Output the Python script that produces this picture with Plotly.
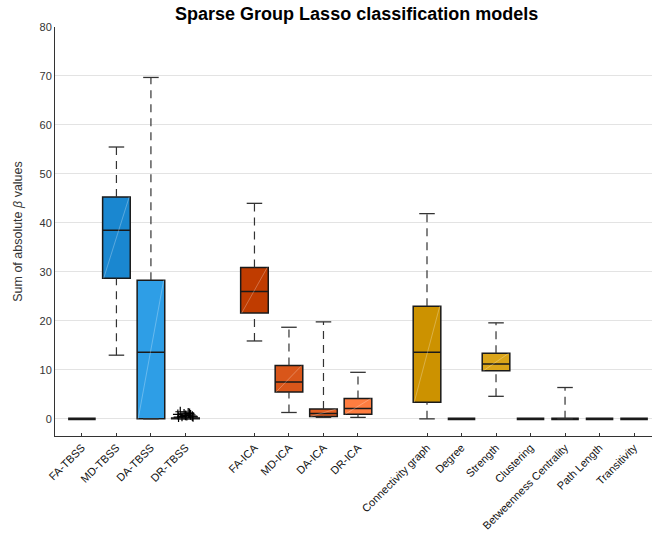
import plotly.graph_objects as go

# ---- data ----
categories = ["FA-TBSS", "MD-TBSS", "DA-TBSS", "DR-TBSS",
              "FA-ICA", "MD-ICA", "DA-ICA", "DR-ICA",
              "Connectivity graph", "Degree", "Strength", "Clustering",
              "Betweenness Centrality", "Path Length", "Transitivity"]
positions = [0, 1, 2, 3, 5, 6, 7, 8, 10, 11, 12, 13, 14, 15, 16]
lower_whisker = [0, 13.0, 0, 0, 15.9, 1.3, 0.3, 0.3, 0, 0, 4.6, 0, 0, 0, 0]
q1_values     = [0, 28.7, 0, 0, 21.6, 5.5, 0.5, 0.95, 3.4, 0, 9.8, 0, 0, 0, 0]
medians       = [0, 38.5, 13.6, 0.05, 26.0, 7.5, 1.1, 2.1, 13.6, 0, 11.2, 0, 0, 0, 0]
q3_values     = [0, 45.3, 28.3, 0.15, 30.9, 10.9, 2.0, 4.15, 23.0, 0, 13.4, 0, 0, 0, 0]
upper_whisker = [0, 55.5, 69.7, 0.3, 44.0, 18.7, 19.8, 9.5, 41.9, 0, 19.6, 0, 6.4, 0, 0]
colors = ["#1a87d0", "#1a87d0", "#2e9ee6", "#2e9ee6",
          "#c03c00", "#d9561a", "#e35f22", "#ff7d40",
          "#cc9200", "#cc9200", "#dba519", "#cc9200",
          "#cc9200", "#cc9200", "#cc9200"]
dr_tbss_outliers = [0.35, 0.5, 0.65, 0.8, 1.0, 1.2, 1.45, 0.55, 0.9, 0.4, 0.7, 1.1]
outlier_jitter = [-0.2, -0.1, 0.04, 0.15, -0.04, 0.08, -0.15, 0.2, -0.22, 0.22, 0.0, 0.12]
y_ticks = [0, 10, 20, 30, 40, 50, 60, 70, 80]

BOX_W = 0.8
CAP_W = 0.45
EDGE = "#1a1a1a"

fig = go.Figure()

# whiskers (dashed) and caps
for p, lw, q1, q3, uw in zip(positions, lower_whisker, q1_values, q3_values, upper_whisker):
    if uw > q3:
        fig.add_trace(go.Scatter(x=[p, p], y=[q3, uw], mode="lines",
                                 line=dict(color="#333333", width=1.2, dash="8px,6px"),
                                 showlegend=False, hoverinfo="skip"))
    if lw < q1:
        fig.add_trace(go.Scatter(x=[p, p], y=[lw, q1], mode="lines",
                                 line=dict(color="#333333", width=1.2, dash="8px,6px"),
                                 showlegend=False, hoverinfo="skip"))
    if uw > 0 or lw > 0:
        for v in (lw, uw):
            fig.add_trace(go.Scatter(x=[p - CAP_W / 2, p + CAP_W / 2], y=[v, v], mode="lines",
                                     line=dict(color="#333333", width=1.3),
                                     showlegend=False, hoverinfo="skip"))

# boxes
for name, p, q1, med, q3, c in zip(categories, positions, q1_values, medians, q3_values, colors):
    flat = (q3 - q1) < 0.01
    fig.add_trace(go.Box(x=[p], q1=[q1], median=[med], q3=[q3],
                         lowerfence=[q1], upperfence=[q3],
                         width=BOX_W, whiskerwidth=0, boxpoints=False,
                         fillcolor=EDGE if flat else c,
                         line=dict(color=EDGE, width=2.6 if flat else 1.5),
                         name=name, showlegend=False))
    if q3 - q1 > 1:
        fig.add_trace(go.Scatter(x=[p - BOX_W / 2 + 0.03, p + BOX_W / 2 - 0.03], y=[q1, q3],
                                 mode="lines", line=dict(color="rgba(255,255,255,0.35)", width=0.8),
                                 showlegend=False, hoverinfo="skip"))

# outliers of DR-TBSS
fig.add_trace(go.Scatter(x=[positions[3] + j for j in outlier_jitter], y=dr_tbss_outliers,
                         mode="markers",
                         marker=dict(symbol="cross-thin-open", size=7, color="black",
                                     line=dict(color="black", width=1.2)),
                         showlegend=False, hoverinfo="skip"))

fig.update_layout(
    width=652, height=533,
    margin=dict(l=55, r=0, t=27, b=97),
    paper_bgcolor="white", plot_bgcolor="white",
    font=dict(family="Liberation Sans, Arial, sans-serif", size=11, color="#333333"),
    title=dict(text="<b>Sparse Group Lasso classification models</b>",
               x=0.547, xanchor="center", y=1 - 14 / 533, yanchor="middle",
               font=dict(size=18, color="black")),
)
fig.update_xaxes(range=[-0.78, 16.52], tickvals=positions, ticktext=categories,
                 tickangle=-45, showgrid=False, zeroline=False,
                 showline=True, linecolor="#333333", linewidth=1,
                 ticks="inside", ticklen=3, tickcolor="#333333",
                 tickfont=dict(size=11, color="#111111"), automargin=False)
fig.update_yaxes(range=[-3.5, 80], tickvals=y_ticks, showgrid=True, gridcolor="#e3e3e3",
                 gridwidth=1, zeroline=False, showline=True, linecolor="#333333", linewidth=1,
                 ticks="", tickfont=dict(size=11, color="#333333"),
                 title=dict(text="Sum of absolute <i>β</i> values", standoff=14,
                            font=dict(size=12.5, color="#333333")),
                 automargin=False)

fig.write_html("out.html", config={"displayModeBar": False},
               post_script="document.body.style.margin='0';document.body.style.overflow='hidden';")
